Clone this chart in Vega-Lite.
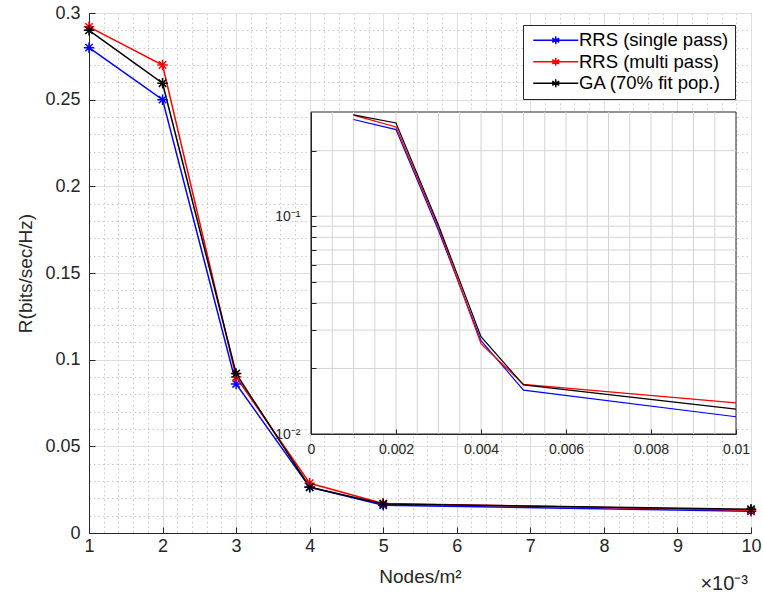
{
  "$schema": "https://vega.github.io/schema/vega-lite/v6.json",
  "width": 662,
  "height": 520,
  "autosize": {"type": "none"},
  "padding": {"left": 89, "top": 13, "right": 12, "bottom": 72},
  "background": "white",
  "title": {"text": "×10⁻³", "orient": "bottom", "anchor": "end", "frame": "group", "offset": -12, "fontSize": 20, "fontWeight": "normal", "font": "Liberation Sans", "color": "#262626", "dx": -3},
  "config": {
    "font": "Liberation Sans",
    "view": {"stroke": "#262626", "strokeWidth": 1},
    "axis": {"labelFont": "Liberation Sans", "titleFont": "Liberation Sans", "labelColor": "#262626", "titleColor": "#262626", "domainColor": "#262626", "tickColor": "#262626", "titleFontWeight": "normal", "gridWidth": 1, "domainWidth": 1, "labelOverlap": false, "labelFlush": false}
  },
  "datasets": {
    "main": [
      {"s": "RRS (single pass)", "x": 1, "y": 0.28},
      {"s": "RRS (single pass)", "x": 2, "y": 0.25},
      {"s": "RRS (single pass)", "x": 3, "y": 0.086},
      {"s": "RRS (single pass)", "x": 4, "y": 0.0265},
      {"s": "RRS (single pass)", "x": 5, "y": 0.016},
      {"s": "RRS (single pass)", "x": 10, "y": 0.0125},
      {"s": "RRS (multi pass)", "x": 1, "y": 0.292},
      {"s": "RRS (multi pass)", "x": 2, "y": 0.27},
      {"s": "RRS (multi pass)", "x": 3, "y": 0.09},
      {"s": "RRS (multi pass)", "x": 4, "y": 0.0287},
      {"s": "RRS (multi pass)", "x": 5, "y": 0.017},
      {"s": "RRS (multi pass)", "x": 10, "y": 0.0131},
      {"s": "GA (70% fit pop.)", "x": 1, "y": 0.29},
      {"s": "GA (70% fit pop.)", "x": 2, "y": 0.2595},
      {"s": "GA (70% fit pop.)", "x": 3, "y": 0.092},
      {"s": "GA (70% fit pop.)", "x": 4, "y": 0.0264},
      {"s": "GA (70% fit pop.)", "x": 5, "y": 0.0168},
      {"s": "GA (70% fit pop.)", "x": 10, "y": 0.0137}
    ],
    "inset": [
      {"s": "RRS (single pass)", "x": 0.001, "y": 0.278},
      {"s": "RRS (single pass)", "x": 0.002, "y": 0.25},
      {"s": "RRS (single pass)", "x": 0.003, "y": 0.086},
      {"s": "RRS (single pass)", "x": 0.004, "y": 0.0268},
      {"s": "RRS (single pass)", "x": 0.005, "y": 0.0159},
      {"s": "RRS (single pass)", "x": 0.01, "y": 0.012},
      {"s": "RRS (multi pass)", "x": 0.001, "y": 0.291},
      {"s": "RRS (multi pass)", "x": 0.002, "y": 0.257},
      {"s": "RRS (multi pass)", "x": 0.003, "y": 0.089},
      {"s": "RRS (multi pass)", "x": 0.004, "y": 0.026},
      {"s": "RRS (multi pass)", "x": 0.005, "y": 0.0169},
      {"s": "RRS (multi pass)", "x": 0.01, "y": 0.0139},
      {"s": "GA (70% fit pop.)", "x": 0.001, "y": 0.292},
      {"s": "GA (70% fit pop.)", "x": 0.002, "y": 0.268},
      {"s": "GA (70% fit pop.)", "x": 0.003, "y": 0.091},
      {"s": "GA (70% fit pop.)", "x": 0.004, "y": 0.028},
      {"s": "GA (70% fit pop.)", "x": 0.005, "y": 0.0168},
      {"s": "GA (70% fit pop.)", "x": 0.01, "y": 0.013}
    ],
    "box": [{"x0": 0, "x1": 0.01, "y0": 0.01, "y1": 0.301}],
    "gridx": [{"g": 0.0005},{"g": 0.001},{"g": 0.0015},{"g": 0.002},{"g": 0.0025},{"g": 0.003},{"g": 0.0035},{"g": 0.004},{"g": 0.0045},{"g": 0.005},{"g": 0.0055},{"g": 0.006},{"g": 0.0065},{"g": 0.007},{"g": 0.0075},{"g": 0.008},{"g": 0.0085},{"g": 0.009},{"g": 0.0095}],
    "gridy": [{"g": 0.02},{"g": 0.03},{"g": 0.04},{"g": 0.05},{"g": 0.06},{"g": 0.07},{"g": 0.08},{"g": 0.09},{"g": 0.1},{"g": 0.2}]
  },
  "layer": [
    {
      "data": {"name": "main"},
      "encoding": {
        "x": {
          "field": "x", "type": "quantitative",
          "scale": {"domain": [1, 10], "nice": false, "zero": false},
          "axis": {
            "title": "Nodes/m²", "titleFontSize": 19, "titlePadding": 12,
            "labelFontSize": 18, "labelPadding": 10,
            "values": [1,1.2,1.4,1.6,1.8,2,2.2,2.4,2.6,2.8,3,3.2,3.4,3.6,3.8,4,4.2,4.4,4.6,4.8,5,5.2,5.4,5.6,5.8,6,6.2,6.4,6.6,6.8,7,7.2,7.4,7.6,7.8,8,8.2,8.4,8.6,8.8,9,9.2,9.4,9.6,9.8,10],
            "labelExpr": "abs(datum.value - round(datum.value)) < 0.001 ? format(datum.value, 'd') : ''",
            "gridColor": {"condition": {"test": "abs(datum.value - round(datum.value)) < 0.001", "value": "#dedede"}, "value": "#c8c8c8"},
            "gridDash": {"condition": {"test": "abs(datum.value - round(datum.value)) < 0.001", "value": []}, "value": [1.5, 3]},
            "tickOpacity": {"condition": {"test": "abs(datum.value - round(datum.value)) < 0.001", "value": 1}, "value": 0},
            "tickSize": -6
          }
        },
        "y": {
          "field": "y", "type": "quantitative",
          "scale": {"domain": [0, 0.3], "nice": false, "zero": false},
          "axis": {
            "title": "R(bits/sec/Hz)", "titleFontSize": 19, "titlePadding": 9,
            "labelFontSize": 18, "labelPadding": 15,
            "values": [0,0.01,0.02,0.03,0.04,0.05,0.06,0.07,0.08,0.09,0.1,0.11,0.12,0.13,0.14,0.15,0.16,0.17,0.18,0.19,0.2,0.21,0.22,0.23,0.24,0.25,0.26,0.27,0.28,0.29,0.3],
            "labelExpr": "abs(datum.value*20 - round(datum.value*20)) < 0.001 ? format(datum.value, '~g') : ''",
            "gridColor": {"condition": {"test": "abs(datum.value*20 - round(datum.value*20)) < 0.001", "value": "#dedede"}, "value": "#c8c8c8"},
            "gridDash": {"condition": {"test": "abs(datum.value*20 - round(datum.value*20)) < 0.001", "value": []}, "value": [1.5, 3]},
            "tickOpacity": {"condition": {"test": "abs(datum.value*20 - round(datum.value*20)) < 0.001", "value": 1}, "value": 0},
            "tickSize": -6
          }
        },
        "stroke": {
          "field": "s", "type": "nominal",
          "scale": {"domain": ["RRS (single pass)", "RRS (multi pass)", "GA (70% fit pop.)"], "range": ["#0000ff", "#ff0000", "#000000"]},
          "legend": {
            "orient": "none", "legendX": 434, "legendY": 12, "title": null,
            "fillColor": "white", "strokeColor": "#262626", "padding": 6,
            "labelFont": "Liberation Sans", "labelFontSize": 18.5, "labelColor": "#000000",
            "symbolType": "M-4.5,0H4.5M0,-0.8V0.8M-0.7,-0.4L0.7,0.4M-0.7,0.4L0.7,-0.4",
            "symbolSize": 100, "symbolStrokeWidth": 1.5, "symbolOffset": 17.5, "labelOffset": 14, "rowPadding": 2.5,
            "symbolFillColor": "transparent"
          }
        }
      },
      "layer": [
        {"mark": {"type": "line", "strokeWidth": 1.5}},
        {"mark": {"type": "point", "shape": "M0,-1V1M-1,0H1M-0.7,-0.7L0.7,0.7M-0.7,0.7L0.7,-0.7", "filled": false, "size": 110, "strokeWidth": 1.5, "opacity": 1}}
      ]
    },
    {
      "layer": [
        {
          "data": {"name": "box"},
          "mark": {"type": "rect", "fill": "white", "stroke": "#262626", "strokeWidth": 1},
          "encoding": {
            "x": {
              "field": "x0", "type": "quantitative",
              "scale": {"domain": [0, 0.01], "range": [222, 647], "nice": false, "zero": false},
              "axis": {
                "orient": "bottom", "offset": -99, "zindex": 1, "title": null, "grid": false,
                "labelFontSize": 14, "labelPadding": 13,
                "values": [0,0.002,0.004,0.006,0.008,0.01],
                "labelExpr": "format(datum.value, '~g')",
                "tickSize": -5
              }
            },
            "x2": {"field": "x1"},
            "y": {
              "field": "y0", "type": "quantitative",
              "scale": {"type": "log", "domain": [0.01, 0.301], "range": [421, 99], "nice": false, "zero": false},
              "axis": {
                "orient": "left", "offset": -222, "zindex": 1, "title": null, "grid": false,
                "labelFontSize": 14, "labelPadding": 16,
                "values": [0.01,0.02,0.03,0.04,0.05,0.06,0.07,0.08,0.09,0.1,0.2],
                "labelExpr": "datum.value == 0.01 ? '10⁻²' : (datum.value == 0.1 ? '10⁻¹' : '')",
                "tickSize": -5
              }
            },
            "y2": {"field": "y1"}
          }
        },
        {
          "data": {"name": "gridx"},
          "mark": {"type": "rule", "color": "#d4d4d4", "strokeWidth": 1},
          "encoding": {
            "x": {"field": "g", "type": "quantitative"},
            "y": {"datum": 0.01, "type": "quantitative"},
            "y2": {"datum": 0.301}
          }
        },
        {
          "data": {"name": "gridy"},
          "mark": {"type": "rule", "color": "#d4d4d4", "strokeWidth": 1},
          "encoding": {
            "y": {"field": "g", "type": "quantitative"},
            "x": {"datum": 0, "type": "quantitative"},
            "x2": {"datum": 0.01}
          }
        },
        {
          "data": {"name": "inset"},
          "mark": {"type": "line", "strokeWidth": 1.2},
          "encoding": {
            "x": {"field": "x", "type": "quantitative", "scale": {"domain": [0, 0.01], "range": [222, 647], "nice": false, "zero": false}},
            "y": {"field": "y", "type": "quantitative", "scale": {"type": "log", "domain": [0.01, 0.301], "range": [421, 99], "nice": false, "zero": false}},
            "stroke": {"field": "s", "type": "nominal", "legend": null}
          }
        }
      ]
    }
  ],
  "resolve": {"scale": {"x": "independent", "y": "independent"}, "axis": {"x": "independent", "y": "independent"}}
}
